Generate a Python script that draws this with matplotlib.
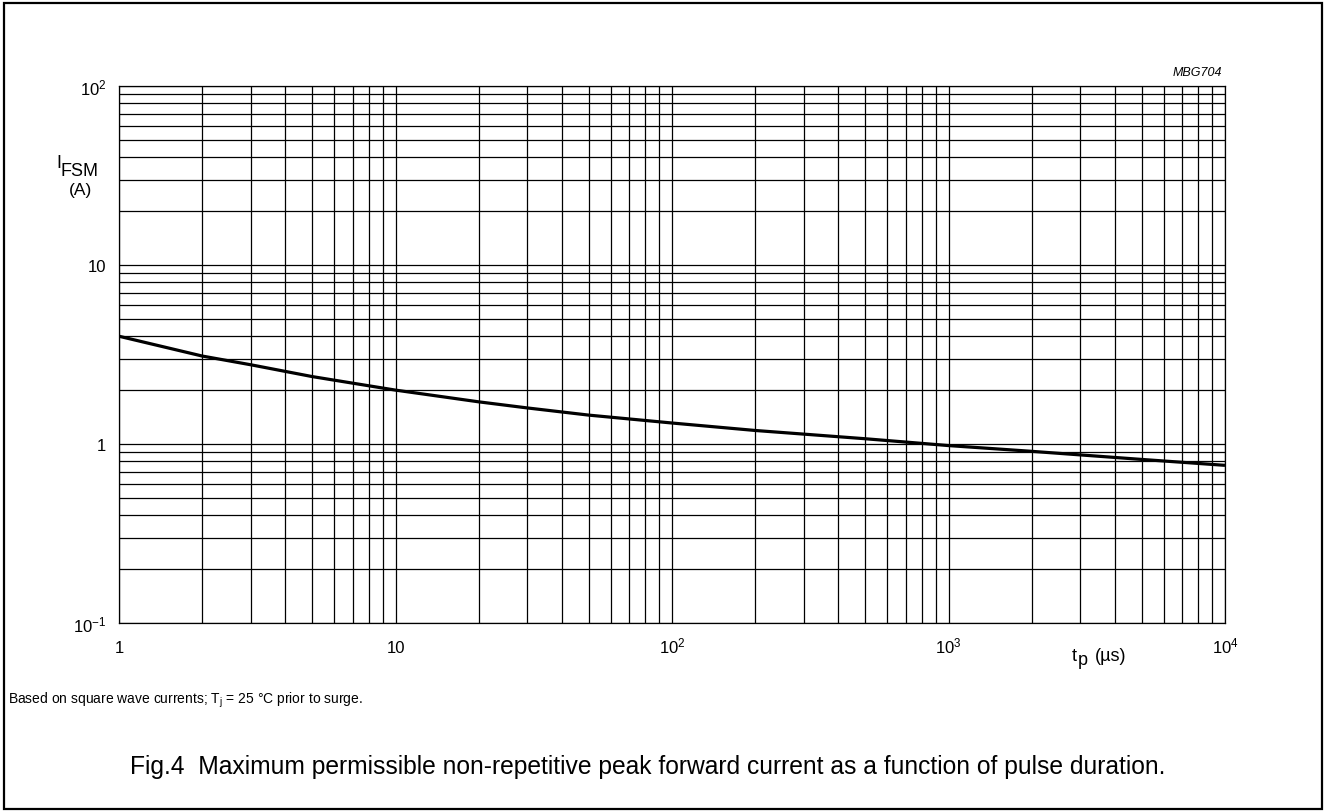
import matplotlib
matplotlib.use("Agg")
import matplotlib.pyplot as plt
from matplotlib.patches import Rectangle

plt.rcParams["font.family"] = ["Liberation Sans", "DejaVu Sans"]
plt.rcParams["mathtext.fontset"] = "custom"
plt.rcParams["mathtext.rm"] = "Liberation Sans"
plt.rcParams["mathtext.it"] = "Liberation Sans:italic"
plt.rcParams["mathtext.default"] = "regular"

# pulse duration (us) and max surge current (A)
tp_us = [1, 2, 3, 5, 10, 20, 30, 50, 100, 200, 500, 1000, 2000, 5000, 10000]
ifsm_a = [4.0, 3.1, 2.77, 2.38, 2.0, 1.72, 1.59, 1.45, 1.31, 1.19, 1.07, 0.98, 0.91, 0.82, 0.76]

x_ticks = [1, 10, 100, 1000, 10000]
x_labels = ["1", "10", "$10^{2}$", "$10^{3}$", "$10^{4}$"]
y_ticks = [0.1, 1, 10, 100]
y_labels = ["$10^{-1}$", "1", "10", "$10^{2}$"]

W, H = 1325, 812
fig = plt.figure(figsize=(W / 100, H / 100), dpi=100)
ax = fig.add_axes([119 / W, 1 - 624 / H, (1225 - 119) / W, (624 - 87) / H])

ax.plot(tp_us, ifsm_a, color="black", lw=2.3, solid_capstyle="butt", zorder=3)

ax.set_xscale("log")
ax.set_yscale("log")
ax.set_xlim(1, 1e4)
ax.set_ylim(0.1, 100)

ax.set_xticks(x_ticks, x_labels)
ax.set_yticks(y_ticks, y_labels)
ax.grid(True, which="both", color="black", lw=0.9)
ax.tick_params(which="both", length=0, labelsize=12)
ax.tick_params(axis="x", pad=21)
ax.tick_params(axis="y", pad=9)
for lbl in ax.get_xticklabels():
    lbl.set_verticalalignment("baseline")
for sp in ax.spines.values():
    sp.set_linewidth(0.9)

# axis titles placed the way the datasheet does it
fig.text(56 / W, 1 - 168 / H, "I", fontsize=13, va="baseline")
fig.text(61 / W, 1 - 176 / H, "FSM", fontsize=13, va="baseline")
fig.text(80 / W, 1 - 195 / H, "(A)", fontsize=12.5, ha="center", va="baseline")
fig.text(1072 / W, 1 - 661 / H, "t", fontsize=13, va="baseline")
fig.text(1078 / W, 1 - 665 / H, "p", fontsize=13, va="baseline")
fig.text(1126 / W, 1 - 661 / H, "(\u00b5s)", fontsize=13, ha="right", va="baseline")
fig.text(1222 / W, 1 - 76 / H, "MBG704", fontsize=9, style="italic", ha="right", va="baseline")

fig.text(8 / W, 1 - 704 / H, "Based on square wave currents; T$_{j}$ = 25 \u00b0C prior to surge.",
         fontsize=10, va="baseline")
fig.text(130 / W, 1 - 774 / H,
         "Fig.4  Maximum permissible non-repetitive peak forward current as a function of pulse duration.",
         fontsize=17.7, va="baseline")

fig.patches.append(Rectangle((4 / W, 2 / H), (1322 - 4) / W, (808 - 2) / H,
                             transform=fig.transFigure, fill=False, edgecolor="black", lw=1.6))

fig.savefig("out.png", dpi=100)
